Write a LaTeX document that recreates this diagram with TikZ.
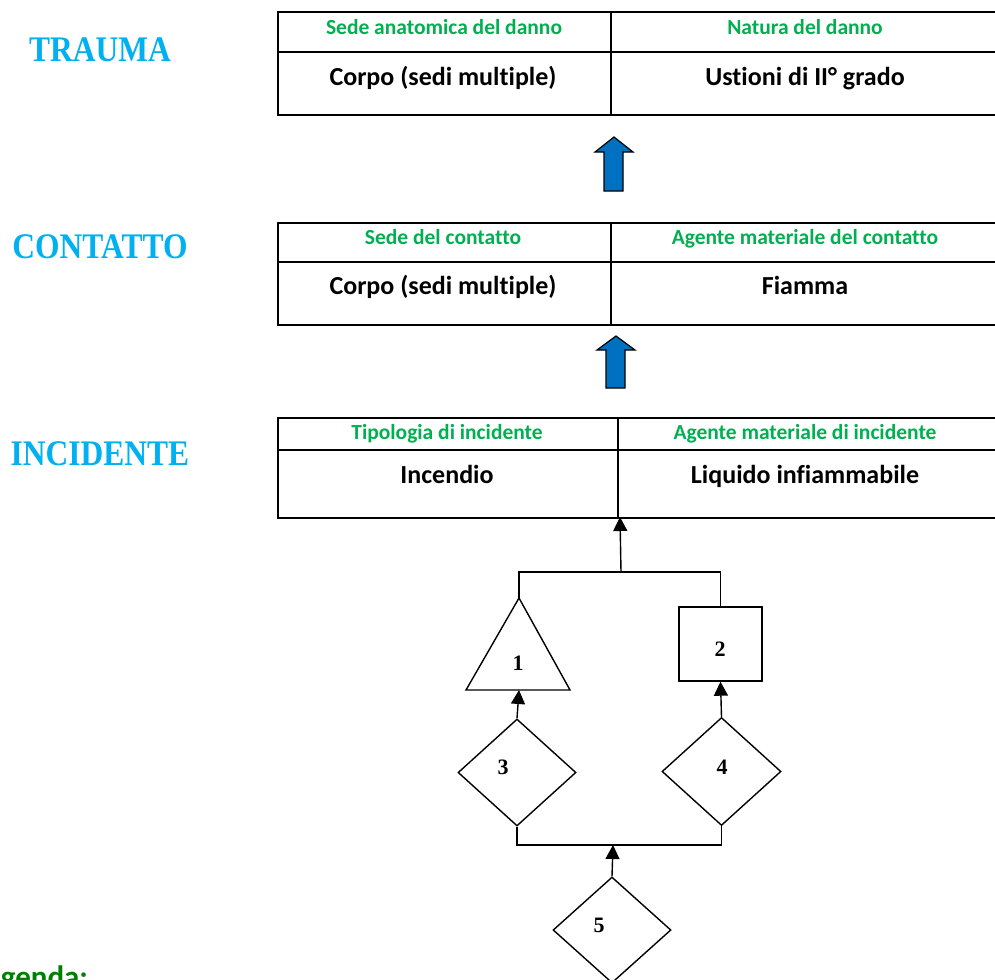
\documentclass[tikz,border=0pt]{standalone}
\usepackage{fontspec}
\setmainfont{Carlito}[Ligatures=NoCommon]
\newfontfamily\tnr{Liberation Serif}
\usetikzlibrary{shapes.geometric,arrows.meta}
\definecolor{lblcyan}{HTML}{00B0F0}
\definecolor{hdrgreen}{HTML}{00B050}
\definecolor{leggreen}{HTML}{008000}
\definecolor{arrblue}{HTML}{0070C0}
\tikzset{
  cell/.style={draw, line width=1.8pt, rectangle, inner sep=0pt, anchor=north west},
  sectlbl/.style={font=\tnr\bfseries\fontsize{36}{40}\selectfont, text=lblcyan, inner sep=0pt},
  hdr/.style={font=\bfseries\fontsize{21.5}{24}\selectfont, text=hdrgreen, inner sep=0pt, text height=16pt, text depth=4.3pt},
  body/.style={font=\bfseries\fontsize{26}{30}\selectfont, inner sep=0pt, text height=19.5pt, text depth=5.2pt},
  num/.style={font=\tnr\bfseries\fontsize{22}{24}\selectfont, inner sep=0pt},
  shp/.style={draw, line width=1.4pt, inner sep=0pt},
  conn/.style={line width=1.4pt},
  arr/.style={line width=1.4pt, -{Triangle[length=14pt,width=14pt]}},
  blockarr/.style={draw=black, line width=1.2pt, fill=arrblue, line join=miter}
}
\begin{document}
\begin{tikzpicture}[x=1pt,y=-1pt]
\useasboundingbox (0,0) rectangle (995,979);
\clip (0,0) rectangle (995,979);

% ---------- TRAUMA ----------
\node[sectlbl] (lt) at (100,50) {\scalebox{0.875}[1]{TRAUMA}};
\node[cell, minimum width=333pt, minimum height=40pt] (a11) at (277,11) {};
\node[cell, minimum width=390pt, minimum height=40pt] (a12) at (610,11) {};
\node[cell, minimum width=333pt, minimum height=63pt] (a21) at (277,51) {};
\node[cell, minimum width=390pt, minimum height=63pt] (a22) at (610,51) {};
\node[hdr] (ah1) at (444,28.5) {Sede anatomica del danno};
\node[hdr] (ah2) at (805,28.5) {Natura del danno};
\node[body] (ab1) at (443,78) {Corpo (sedi multiple)};
\node[body] (ab2) at (805,78) {Ustioni di II° grado};

% blue arrow 1
\draw[blockarr] (604,191) -- (604,152) -- (595,152) -- (614,137) -- (633,152) -- (623,152) -- (623,191) -- cycle;

% ---------- CONTATTO ----------
\node[sectlbl] (lc) at (100,247) {\scalebox{0.875}[1]{CONTATTO}};
\node[cell, minimum width=333pt, minimum height=39pt] (b11) at (277,222) {};
\node[cell, minimum width=390pt, minimum height=39pt] (b12) at (610,222) {};
\node[cell, minimum width=333pt, minimum height=63pt] (b21) at (277,261) {};
\node[cell, minimum width=390pt, minimum height=63pt] (b22) at (610,261) {};
\node[hdr] (bh1) at (443,238.5) {Sede del contatto};
\node[hdr] (bh2) at (805,238.5) {Agente materiale del contatto};
\node[body] (bb1) at (443,287) {Corpo (sedi multiple)};
\node[body] (bb2) at (805,287) {Fiamma};

% blue arrow 2
\draw[blockarr] (606,388) -- (606,350) -- (597,350) -- (616,336) -- (635,350) -- (625,350) -- (625,388) -- cycle;

% ---------- INCIDENTE ----------
\node[sectlbl] (li) at (100,454) {\scalebox{0.875}[1]{INCIDENTE}};
\node[cell, minimum width=340pt, minimum height=32pt] (c11) at (277,417) {};
\node[cell, minimum width=383pt, minimum height=32pt] (c12) at (617,417) {};
\node[cell, minimum width=340pt, minimum height=68pt] (c21) at (277,449) {};
\node[cell, minimum width=383pt, minimum height=68pt] (c22) at (617,449) {};
\node[hdr] (ch1) at (447,434) {Tipologia di incidente};
\node[hdr] (ch2) at (805,434) {Agente materiale di incidente};
\node[body] (cb1) at (447,476) {Incendio};
\node[body] (cb2) at (805,476) {Liquido infiammabile};
\coordinate (tin) at (620,517);

% ---------- lower diagram ----------
\coordinate (t1apex) at (519,598);
\coordinate (t1bl) at (466,690);
\coordinate (t1br) at (570,690);
\coordinate (t1base) at (519,690);
\draw[conn, line join=miter] (t1apex) -- (t1bl) -- (t1br) -- cycle;
\node[num] (n1) at (518,663) {1};

\node[shp, rectangle, minimum width=83pt, minimum height=74pt] (sq2) at (720.5,644) {};
\node[num] (n2) at (720,649) {2};

\node[shp, diamond, minimum width=118pt, minimum height=107pt] (d3) at (517,772.5) {};
\node[num] (n3) at (503,767) {3};
\node[shp, diamond, minimum width=119pt, minimum height=108pt] (d4) at (721.5,771.5) {};
\node[num] (n4) at (722,767) {4};
\node[shp, diamond, minimum width=118pt, minimum height=106pt] (d5) at (612,930) {};
\node[num] (n5) at (599,925) {5};

\coordinate (tj) at (621,572);
\coordinate (bj) at (613,845);

\draw[conn] (t1apex) |- (tj) -| (sq2.north);
\draw[arr] (tj) -- (tin);
\draw[arr] (d3.north) -- (t1base);
\draw[arr] (d4.north) -- (sq2.south);
\draw[conn] (d3.south) |- (bj) -| (d4.south);
\draw[arr] (d5.north) -- (bj);

% legend (cut off at the picture's edge, as in the reference)
\node[font=\bfseries\fontsize{31}{34}\selectfont, text=leggreen, anchor=base west, inner sep=0pt] (leg) at (-28,987) {Legenda:};
\end{tikzpicture}
\end{document}
